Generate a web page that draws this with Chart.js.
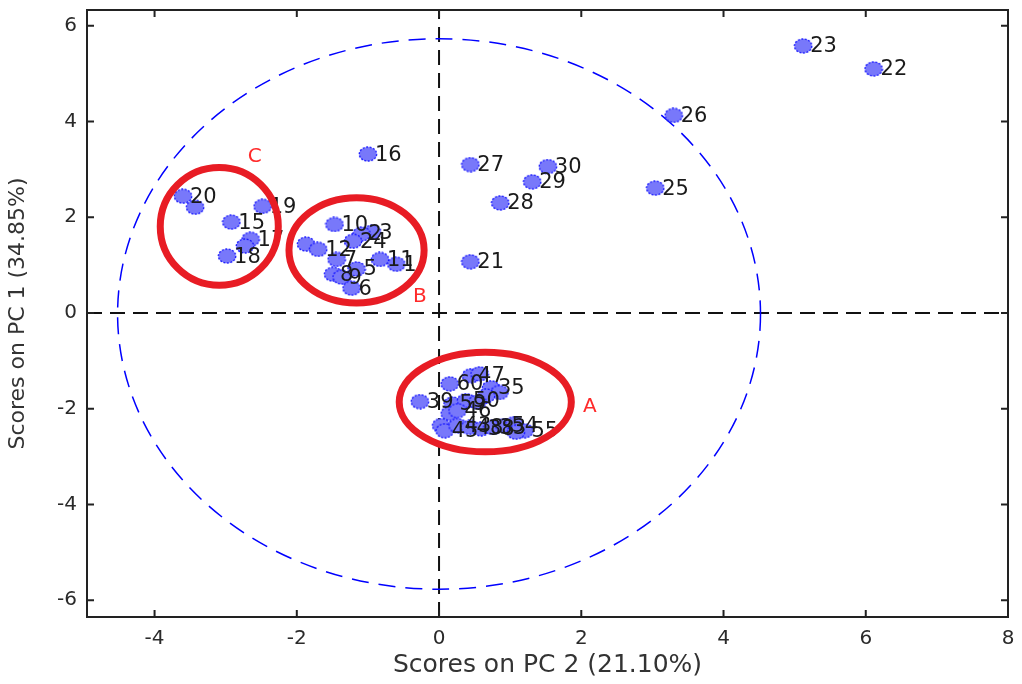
<!DOCTYPE html>
<html><head><meta charset="utf-8">
<script src="https://cdn.jsdelivr.net/npm/chart.js@4.4.0/dist/chart.umd.min.js"></script>
<style>html,body{margin:0;padding:0;background:#fff;}canvas{display:block}</style>
</head><body><canvas id="c" width="1022" height="684"></canvas>
<script>
// ---- axis settings ----
const xTicks = [-4, -2, 0, 2, 4, 6, 8];
const yTicks = [-6, -4, -2, 0, 2, 4, 6];
const xRange = [-4.95, 8];
const yRange = [-6.35, 6.33];
const xTitle = 'Scores on PC 2 (21.10%)';
const yTitle = 'Scores on PC 1 (34.85%)';

// ---- samples ----
const sampleLabels = [
  '23','22','26','25','27','30','29','28','21','16',
  '20','','19','15','17','','18',
  '10','3','2','24','','12','7','11','1','8','5','9','6',
  '39','47','','60','35','','','59','50','','','46','','45','43','48','38','33','54','','55',''
];
const pc2 = [
  5.12, 6.11, 3.30, 3.04, 0.44, 1.53, 1.31, 0.86, 0.44, -1.00,
  -3.60, -3.43, -2.48, -2.92, -2.65, -2.73, -2.98,
  -1.47, -0.94, -1.09, -1.21, -1.87, -1.70, -1.44, -0.83, -0.60, -1.49, -1.16, -1.37, -1.23,
  -0.27, 0.45, 0.57, 0.15, 0.73, 0.85, 0.66, 0.19, 0.38, 0.54, 0.15, 0.26, 0.03, 0.08, 0.26, 0.43, 0.59, 0.75, 0.92, 1.06, 1.20, 1.08
];
const pc1 = [
  5.58, 5.10, 4.13, 2.61, 3.10, 3.06, 2.74, 2.30, 1.07, 3.32,
  2.44, 2.21, 2.23, 1.90, 1.54, 1.40, 1.19,
  1.85, 1.69, 1.65, 1.50, 1.44, 1.33, 1.12, 1.12, 1.02, 0.81, 0.92, 0.75, 0.52,
  -1.85, -1.31, -1.27, -1.48, -1.56, -1.66, -1.73, -1.90, -1.83, -1.86, -2.10, -2.04, -2.35, -2.46, -2.35, -2.39, -2.42, -2.39, -2.35, -2.31, -2.46, -2.49
];

// ---- group circles (A, B, C) ----
const groupNames = ['A', 'B', 'C'];
const groupCx = [0.65, -1.16, -3.09];
const groupCy = [-1.86, 1.31, 1.81];
const groupRx = [1.21, 0.95, 0.83];
const groupRy = [1.04, 1.10, 1.23];
const groupTagX = [2.12, -0.27, -2.59];
const groupTagY = [-1.96, 0.33, 3.27];

// ---- confidence ellipse ----
const limitC = [0.0, -0.02];
const limitR = [4.52, 5.75];

function makeMarker() {
  const c = document.createElement('canvas');
  c.width = 20; c.height = 16;
  const g = c.getContext('2d');
  g.beginPath();
  g.ellipse(10, 8, 8.7, 7.0, 0, 0, Math.PI * 2);
  g.fillStyle = '#7878fa';
  g.fill();
  g.setLineDash([2, 1.5]);
  g.strokeStyle = '#1414ff';
  g.lineWidth = 1.3;
  g.stroke();
  return c;
}

const FONT = 'DejaVu Sans';

const overlay = {
  id: 'overlay',
  beforeDatasetsDraw(chart) {
    const { ctx, chartArea: a, scales: { x, y } } = chart;
    ctx.save();
    ctx.beginPath();
    ctx.rect(a.left, a.top, a.right - a.left, a.bottom - a.top);
    ctx.clip();
    const x0 = x.getPixelForValue(0), y0 = y.getPixelForValue(0);
    ctx.strokeStyle = '#111';
    ctx.lineWidth = 2;
    ctx.setLineDash([15, 8]);
    ctx.beginPath(); ctx.moveTo(x0, a.bottom); ctx.lineTo(x0, a.top); ctx.stroke();
    ctx.beginPath(); ctx.moveTo(a.left, y0); ctx.lineTo(a.right, y0); ctx.stroke();
    const cx = x.getPixelForValue(limitC[0]), cy = y.getPixelForValue(limitC[1]);
    const rx = x.getPixelForValue(limitC[0] + limitR[0]) - cx;
    const ry = cy - y.getPixelForValue(limitC[1] + limitR[1]);
    ctx.strokeStyle = '#0000ff';
    ctx.lineWidth = 1.5;
    ctx.setLineDash([17, 10]);
    ctx.beginPath(); ctx.ellipse(cx, cy, rx, ry, 0, 0, Math.PI * 2); ctx.stroke();
    ctx.restore();
  },
  afterDatasetsDraw(chart) {
    const { ctx, chartArea: a, scales: { x, y } } = chart;
    ctx.save();
    // sample labels
    ctx.font = '21px "' + FONT + '"';
    ctx.fillStyle = '#1a1a1a';
    ctx.textAlign = 'left';
    ctx.textBaseline = 'middle';
    sampleLabels.forEach((t, i) => {
      if (!t) return;
      ctx.fillText(t, x.getPixelForValue(pc2[i]) + 7, y.getPixelForValue(pc1[i]) + 1);
    });
    // group circles
    ctx.strokeStyle = '#e81c24';
    ctx.lineWidth = 7;
    groupNames.forEach((n, i) => {
      const cx = x.getPixelForValue(groupCx[i]), cy = y.getPixelForValue(groupCy[i]);
      const rx = x.getPixelForValue(groupCx[i] + groupRx[i]) - cx;
      const ry = cy - y.getPixelForValue(groupCy[i] + groupRy[i]);
      ctx.beginPath(); ctx.ellipse(cx, cy, rx, ry, 0, 0, Math.PI * 2); ctx.stroke();
    });
    ctx.fillStyle = '#ff2a2a';
    ctx.font = '20px "' + FONT + '"';
    ctx.textAlign = 'center';
    groupNames.forEach((n, i) => {
      ctx.fillText(n, x.getPixelForValue(groupTagX[i]), y.getPixelForValue(groupTagY[i]));
    });
    // frame with inward ticks
    ctx.strokeStyle = '#222';
    ctx.lineWidth = 2;
    ctx.strokeRect(a.left, a.top, a.right - a.left, a.bottom - a.top);
    const tl = 7;
    ctx.beginPath();
    xTicks.forEach(v => {
      const px = x.getPixelForValue(v);
      ctx.moveTo(px, a.bottom); ctx.lineTo(px, a.bottom - tl);
      ctx.moveTo(px, a.top); ctx.lineTo(px, a.top + tl);
    });
    yTicks.forEach(v => {
      const py = y.getPixelForValue(v);
      ctx.moveTo(a.left, py); ctx.lineTo(a.left + tl, py);
      ctx.moveTo(a.right, py); ctx.lineTo(a.right - tl, py);
    });
    ctx.stroke();
    ctx.restore();
  }
};

new Chart(document.getElementById('c'), {
  type: 'scatter',
  data: {
    datasets: [{
      data: pc2.map((v, i) => ({ x: v, y: pc1[i] })),
      pointStyle: makeMarker(),
      pointRadius: 8,
      pointHoverRadius: 8
    }]
  },
  options: {
    responsive: false,
    animation: false,
    devicePixelRatio: 1,
    events: [],
    layout: { padding: { left: 0, top: 10, right: 14, bottom: 0 } },
    plugins: { legend: { display: false }, tooltip: { enabled: false } },
    scales: {
      x: {
        type: 'linear', min: xRange[0], max: xRange[1],
        afterBuildTicks: s => { s.ticks = xTicks.map(v => ({ value: v })); },
        afterFit: s => { s.height = 67; s.paddingLeft = 0; s.paddingRight = 0; },
        grid: { display: false, drawTicks: false },
        border: { display: false },
        ticks: { padding: 10, color: '#2a2a2a', font: { family: FONT, size: 20 }, callback: v => String(v), maxRotation: 0 },
        title: { display: true, text: xTitle, color: '#333', font: { family: FONT, size: 25 }, padding: { top: 0, bottom: 4 } }
      },
      y: {
        type: 'linear', min: yRange[0], max: yRange[1],
        afterBuildTicks: s => { s.ticks = yTicks.map(v => ({ value: v })); },
        afterFit: s => { s.width = 87; s.paddingTop = 0; s.paddingBottom = 0; },
        grid: { display: false, drawTicks: false },
        border: { display: false },
        ticks: { padding: 10, color: '#2a2a2a', font: { family: FONT, size: 20 }, callback: v => String(v) },
        title: { display: true, text: yTitle, color: '#333', font: { family: FONT, size: 22 }, padding: { top: 5, bottom: 0 } }
      }
    }
  },
  plugins: [overlay]
});
</script>
</body></html>
